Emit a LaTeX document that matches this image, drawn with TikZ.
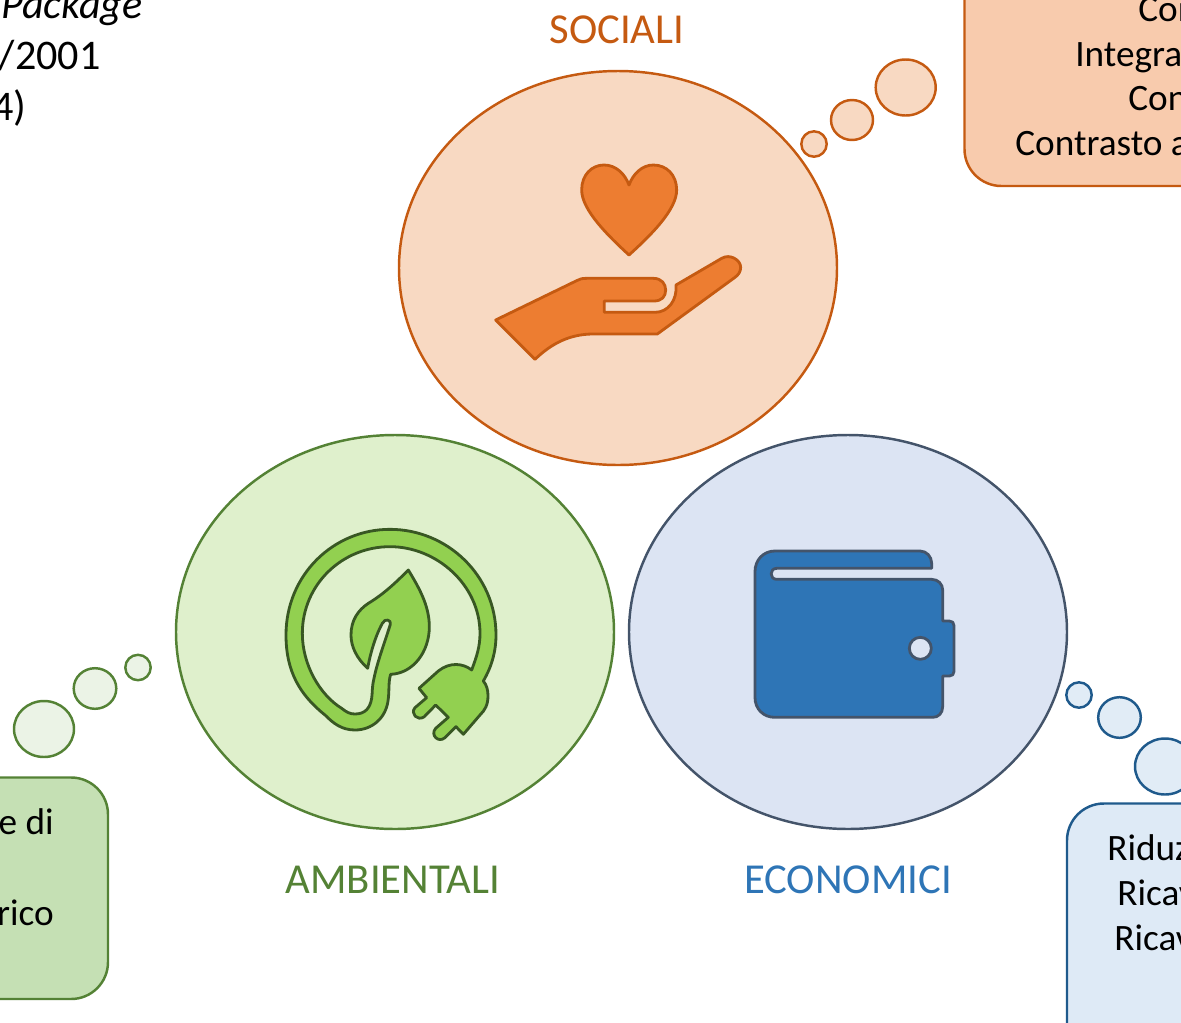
\documentclass[tikz,border=0pt]{standalone}
\usepackage{fontspec}
\setmainfont{Carlito}
\definecolor{orS}{HTML}{C55A11}\definecolor{orF}{HTML}{F8D9C2}\definecolor{orB}{HTML}{F8CBAD}\definecolor{orI}{HTML}{ED7D31}
\definecolor{grS}{HTML}{548235}\definecolor{grF}{HTML}{DFF0CC}\definecolor{grB}{HTML}{C5E0B4}\definecolor{grL}{HTML}{EBF3E6}\definecolor{grI}{HTML}{92D050}\definecolor{grD}{HTML}{385723}
\definecolor{blS}{HTML}{44546A}\definecolor{blF}{HTML}{DCE4F3}\definecolor{blB}{HTML}{DEEAF6}\definecolor{blL}{HTML}{E1ECF6}\definecolor{blI}{HTML}{2E75B6}\definecolor{blD}{HTML}{1F5A8C}
\tikzset{
  line/.style={line width=1.4pt},
  txt/.style={inner sep=0pt,font=\fontsize{21.2}{25}\selectfont,text=black},
  txtbig/.style={inner sep=0pt,font=\fontsize{24}{29}\selectfont,text=black,anchor=base east},
  lab/.style={inner sep=0pt,font=\fontsize{24.3}{29}\selectfont,anchor=base},
  icon/.style={line width=1.6pt,line join=round},
  boxr/.style={line,rounded corners=21pt},
}
\begin{document}
\begin{tikzpicture}[x=0.02cm,y=-0.02cm]
\useasboundingbox (0,0) rectangle (1181,1022);
\clip (0,0) rectangle (1181,1022);
% main circles
\draw[line,draw=orS,fill=orF] (618,268) ellipse [x radius=219,y radius=197];
\draw[line,draw=grS,fill=grF] (395,632) ellipse [x radius=219,y radius=197];
\draw[line,draw=blS,fill=blF] (848,632) ellipse [x radius=219,y radius=197];
% thought bubbles
\draw[line,draw=orS,fill=orF] (905.7,87.5) ellipse [x radius=30,y radius=28];
\draw[line,draw=orS,fill=orF] (852,120) ellipse [x radius=21,y radius=20];
\draw[line,draw=orS,fill=orF] (814,144) ellipse [x radius=12.7,y radius=12.7];
\draw[line,draw=grS,fill=grL] (44,729) ellipse [x radius=30,y radius=28];
\draw[line,draw=grS,fill=grL] (95,688.5) ellipse [x radius=21.3,y radius=20.3];
\draw[line,draw=grS,fill=grL] (138,667.5) ellipse [x radius=12.7,y radius=12.7];
\draw[line,draw=blD,fill=blL] (1079,695) ellipse [x radius=12.7,y radius=12.7];
\draw[line,draw=blD,fill=blL] (1119.5,717.5) ellipse [x radius=21.3,y radius=20.3];
\draw[line,draw=blD,fill=blL] (1165,766.5) ellipse [x radius=30,y radius=28];
% text boxes
\draw[boxr,draw=orS,fill=orB] (964.5,-60) rectangle (1260,186);
\draw[boxr,draw=grS,fill=grB] (-100,777.5) rectangle (108,999);
\draw[boxr,draw=blD,fill=blB] (1067,803.5) rectangle (1260,1060);
% hand and heart
\begin{scope}[shift={(480,150)},scale=0.33333]
\draw[icon,draw=orS,fill=orI] (447,315) .. controls (385,258) and (305,180) .. (305,120)
  .. controls (305,75) and (335,45) .. (372,45) .. controls (408,45) and (435,72) .. (447,105)
  .. controls (459,72) and (486,45) .. (520,45) .. controls (560,45) and (590,75) .. (590,120)
  .. controls (590,180) and (510,258) .. (447,315) -- cycle;
\draw[icon,draw=orS,fill=orI] (47,510) -- (290,392) .. controls (300,387) and (305,385) .. (320,385)
  -- (520,385) .. controls (545,385) and (557,402) .. (557,420) .. controls (557,440) and (545,453) .. (522,453)
  -- (373,453) -- (373,487) -- (525,487) .. controls (565,487) and (592,450) .. (588,405)
  -- (725,325) .. controls (750,310) and (782,330) .. (782,352) .. controls (782,365) and (775,375) .. (765,382)
  -- (532,552) -- (340,552) .. controls (270,552) and (215,580) .. (165,628) -- cycle;
\end{scope}
% leaf and plug
\begin{scope}[shift={(270,515)},scale=0.33333]
\draw[icon,draw=grD,fill=grI] (415,165) .. controls (445,215) and (478,270) .. (478,335)
  .. controls (478,410) and (430,475) .. (362,478)
  .. controls (355,500) and (358,525) .. (355,550)
  .. controls (350,610) and (305,645) .. (255,645)
  .. controls (215,645) and (190,625) .. (165,600)
  .. controls (90,540) and (48,470) .. (48,360)
  .. controls (48,180) and (190,43) .. (360,43)
  .. controls (530,43) and (678,180) .. (678,360)
  .. controls (678,410) and (665,455) .. (640,498)
  .. controls (650,510) and (654,525) .. (654,542)
  .. controls (654,570) and (645,585) .. (630,600)
  -- (580,658) -- (558,635) -- (525,668)
  .. controls (505,685) and (480,660) .. (497,640)
  -- (535,607) -- (497,570) -- (463,605)
  .. controls (442,620) and (420,595) .. (435,578)
  -- (470,548) -- (447,520) -- (505,468)
  .. controls (540,440) and (580,445) .. (605,465)
  .. controls (620,425) and (630,395) .. (630,355)
  .. controls (630,210) and (500,95) .. (360,95)
  .. controls (215,95) and (97,210) .. (97,355)
  .. controls (97,450) and (150,540) .. (215,580)
  .. controls (230,592) and (240,597) .. (255,597)
  .. controls (285,597) and (300,580) .. (305,550)
  .. controls (308,530) and (305,520) .. (312,490)
  .. controls (322,440) and (345,380) .. (361,328)
  .. controls (365,315) and (345,308) .. (337,325)
  .. controls (315,365) and (300,420) .. (293,460)
  .. controls (260,430) and (243,395) .. (243,360)
  .. controls (243,315) and (265,285) .. (295,265)
  .. controls (345,235) and (385,195) .. (415,165) -- cycle;
\end{scope}
% wallet
\begin{scope}[shift={(740,535)},scale=0.33333]
\draw[icon,draw=blS,fill=blI] (45,110) .. controls (45,75) and (70,48) .. (105,48)
  -- (540,48) .. controls (560,48) and (575,65) .. (575,85) -- (575,100) -- (110,100)
  .. controls (88,100) and (88,133) .. (110,133) -- (575,133)
  .. controls (595,133) and (608,148) .. (608,165) -- (608,258) -- (628,258)
  .. controls (637,258) and (642,263) .. (642,272) -- (642,409)
  .. controls (642,418) and (637,423) .. (628,423) -- (608,423) -- (608,515)
  .. controls (608,535) and (595,547) .. (578,547) -- (105,547)
  .. controls (70,547) and (45,522) .. (45,487) -- cycle;
\draw[icon,draw=blS,fill=blF] (541,340) circle [radius=33];
\end{scope}
% labels
\node[lab,text=orS] (soc) at (617,43) {SOCIALI};
\node[lab,text=grS] (amb) at (393,893) {AMBIENTALI};
\node[lab,text=blI] (eco) at (848,893) {ECONOMICI};
% clipped texts
\node[txtbig] (t1) at (143,18) {\itshape Package};
\node[txtbig] (t2) at (101,69) {/2001};
\node[txtbig] (t3) at (27,120) {4)};
\node[txt,anchor=base west] (o1) at (1138,21.5) {Con};
\node[txt,anchor=base west] (o2) at (1075,66) {Integra};
\node[txt,anchor=base west] (o3) at (1128,110.5) {Con};
\node[txt,anchor=base west] (o4) at (1015,155) {Contrasto a};
\node[txt,anchor=base east] (g1) at (54,834.5) {e di};
\node[txt,anchor=base east] (g2) at (54,925) {rico};
\node[txt,anchor=base west] (b1) at (1107,860) {Riduz};
\node[txt,anchor=base west] (b2) at (1117,905) {Ricav};
\node[txt,anchor=base west] (b3) at (1114,950) {Ricav};
\end{tikzpicture}
\end{document}
